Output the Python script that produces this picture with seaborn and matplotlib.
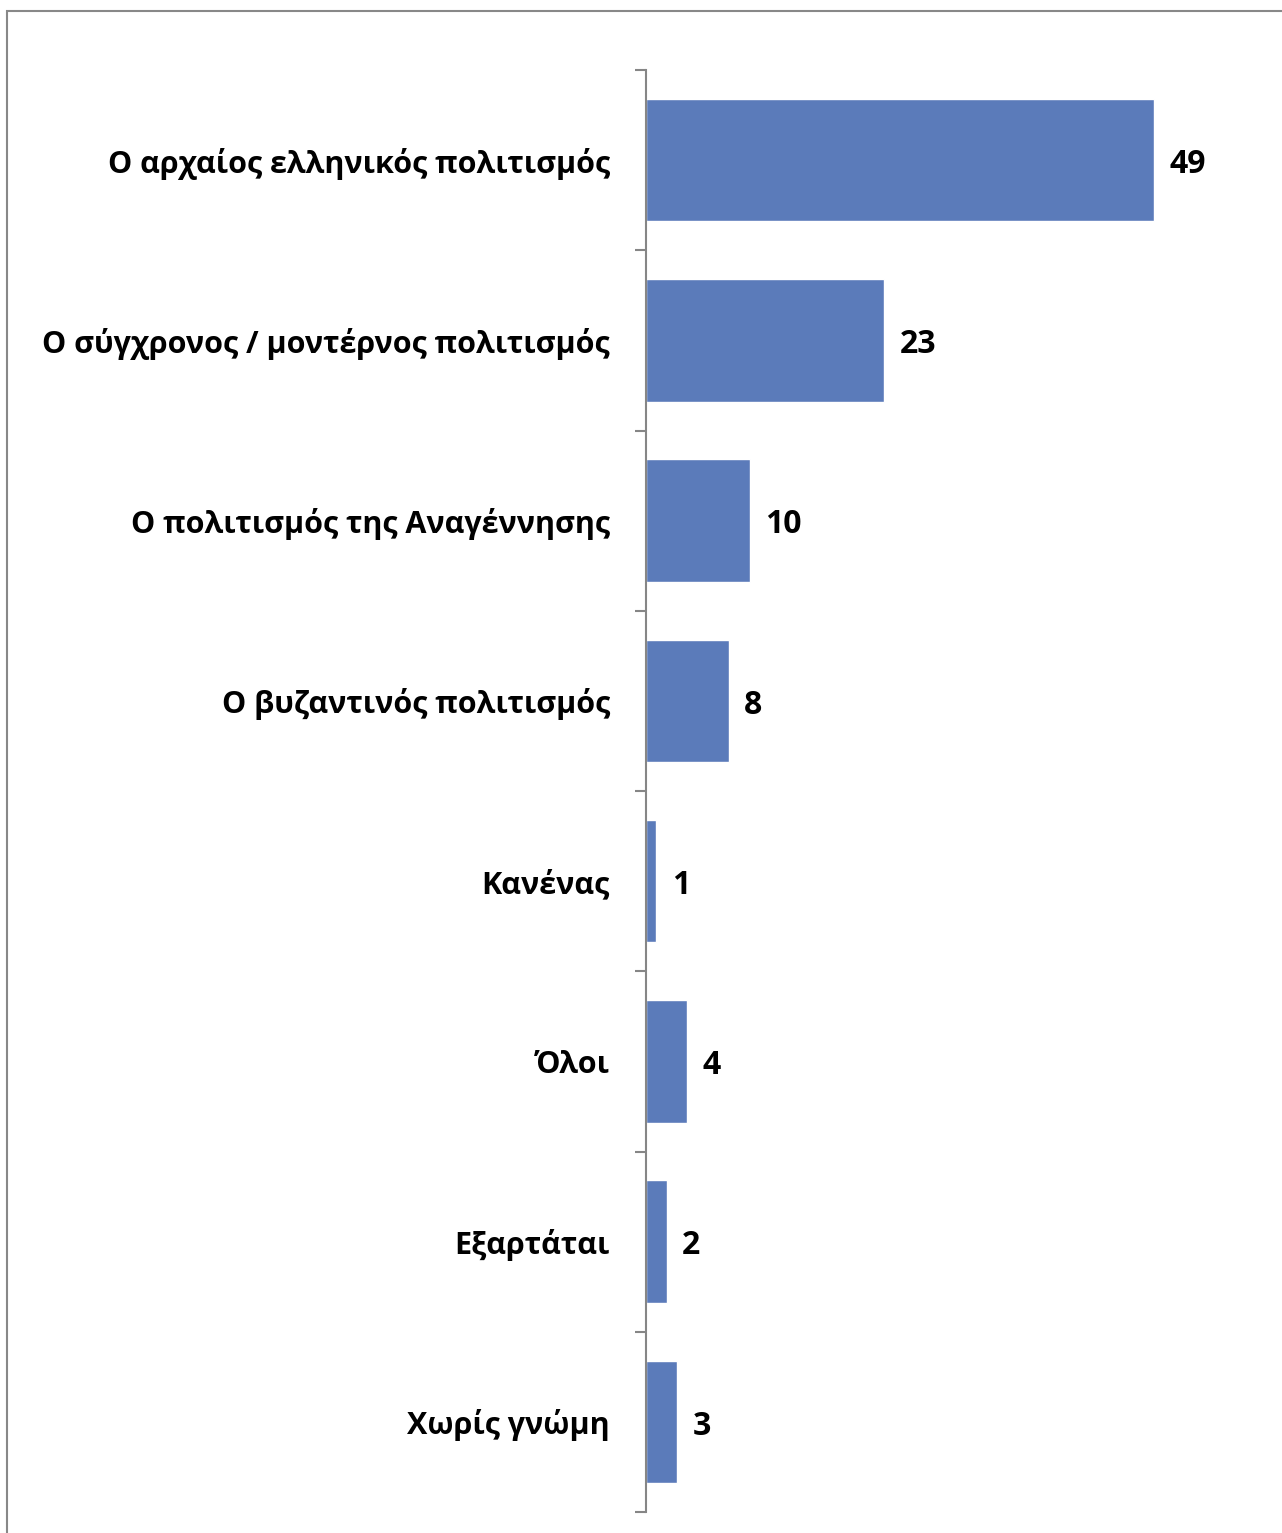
import matplotlib
matplotlib.use("Agg")
import matplotlib.pyplot as plt
import seaborn as sns
import pandas as pd
import numpy as np
from matplotlib.patches import Rectangle

categories = [
    "Ο αρχαίος ελληνικός πολιτισμός",
    "Ο σύγχρονος / μοντέρνος πολιτισμός",
    "Ο πολιτισμός της Αναγέννησης",
    "Ο βυζαντινός πολιτισμός",
    "Κανένας",
    "Όλοι",
    "Εξαρτάται",
    "Χωρίς γνώμη",
]
values = [49, 23, 10, 8, 1, 4, 2, 3]

sns.set_theme(style="white")
plt.rcParams['font.family'] = ['Open Sans', 'DejaVu Sans']

df = pd.DataFrame({"cat": categories, "val": values})

fig = plt.figure(figsize=(12.82, 15.33), dpi=100)
ax = fig.add_axes([646 / 1282, 21 / 1533, 622 / 1282, 1442 / 1533])

sns.barplot(data=df, y="cat", x="val", orient="h", color="#5B7BBA",
            saturation=1, width=0.68, ax=ax)

ax.set_xlim(0, 60)
ax.set_ylim(len(categories) - 0.5, -0.5)
ax.set_xlabel("")
ax.set_ylabel("")
ax.set_xticks([])

for s in ["top", "right", "bottom"]:
    ax.spines[s].set_visible(False)
ax.spines["left"].set_color("#868686")
ax.spines["left"].set_linewidth(1.5)

# labels in the middle of each band, tick marks on the boundaries
ax.set_yticks(np.arange(len(categories)))
ax.set_yticklabels(categories, fontsize=22, fontweight="bold", color="black")
ax.tick_params(axis="y", which="major", length=0, pad=26)
ax.set_yticks(np.arange(len(categories) + 1) - 0.5, minor=True)
ax.tick_params(axis="y", which="minor", length=8, width=1.5, color="#868686", left=True)

for c in ax.containers:
    labels = ax.bar_label(c, padding=11, fontsize=23, fontweight="bold", color="black")
    for t in labels:
        t.xyann = (11, -3)  # nudge down a little, digits sit high otherwise

# outer frame of the chart area
fig.patches.append(Rectangle((7 / 1282, -0.05), 1.2, 1522 / 1533 + 0.05,
                             transform=fig.transFigure, fill=False,
                             edgecolor="#888888", linewidth=1.5))

fig.savefig("out.png", dpi=100)
